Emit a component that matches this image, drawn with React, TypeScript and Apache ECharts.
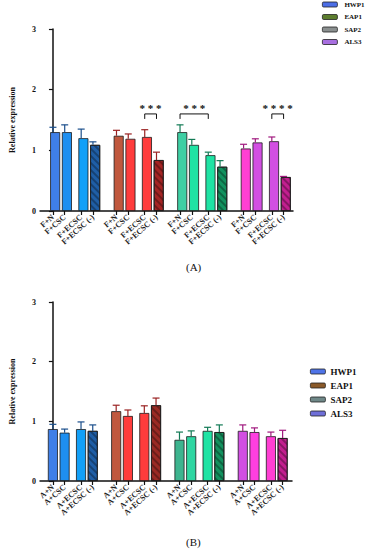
import React, { useEffect, useRef } from "react";
import * as echarts from "echarts";

// ---------- data ----------
const GENES = ["HWP1", "EAP1", "SAP2", "ALS3"];
const LABELS_A = ["F+N", "F+CSC", "F+ECSC", "F+ECSC (-)"];
const LABELS_B = ["A+N", "A+CSC", "A+ECSC", "A+ECSC (-)"];

// mean relative expression, per gene (rows) and condition (columns)
const MEAN_A = [
  [1.3, 1.3, 1.2, 1.09],
  [1.24, 1.19, 1.22, 0.84],
  [1.3, 1.09, 0.92, 0.73],
  [1.03, 1.13, 1.15, 0.56],
];
const UPPER_A = [
  [1.38, 1.42, 1.35, 1.14],
  [1.33, 1.27, 1.34, 0.97],
  [1.42, 1.18, 0.97, 0.83],
  [1.1, 1.19, 1.22, 0.57],
];
const MEAN_B = [
  [0.87, 0.81, 0.87, 0.84],
  [1.17, 1.09, 1.14, 1.27],
  [0.69, 0.75, 0.84, 0.82],
  [0.84, 0.82, 0.75, 0.72],
];
const UPPER_B = [
  [0.95, 0.87, 0.99, 0.94],
  [1.27, 1.19, 1.26, 1.39],
  [0.82, 0.84, 0.9, 0.94],
  [0.94, 0.89, 0.82, 0.85],
];
// significance in panel A: gene index, from condition, to condition, mark
const SIG_GENE = [1, 2, 3];
const SIG_FROM = [2, 0, 2];
const SIG_TO = [3, 2, 3];
const SIG_MARK = ["* * *", "* * *", "* * * *"];
const Y_TICKS = [0, 1, 2, 3];

// ---------- styles ----------
const COLORS_A = [
  ["#3f7fe8", "#1e8ff0", "#12a0f8", "#1f5ea6"],
  ["#c0583e", "#ff3c3c", "#ff3c3c", "#a52424"],
  ["#3fcfa4", "#1fe3a4", "#1fe3a4", "#13925f"],
  ["#ff3fd3", "#d24fe2", "#d24fe2", "#c21f8f"],
];
const COLORS_B = [
  ["#3f7fe8", "#1e8ff0", "#12a0f8", "#1f5ea6"],
  ["#c0583e", "#ff3c3c", "#ff3c3c", "#9a2a24"],
  ["#3db48f", "#2fd6a2", "#1fe3a4", "#13925f"],
  ["#d24fe2", "#ff3fe0", "#ff3fd3", "#c21f8f"],
];
const ERR_COLORS = ["#1b4f8c", "#9a2222", "#127a55", "#a0197e"];
const LEGEND_A = ["#4c6ee6", "#5c7d2e", "#8a8f8f", "#a86fe0"];
const LEGEND_B = ["#4f74e8", "#8a5a2a", "#6f8888", "#6f6fd8"];
const FONT = "'Liberation Serif', 'DejaVu Serif', serif";

// layout of a bar slot along the (hidden-scale) x axis
const GROUP_STEP = 5.4;
const IN_GROUP = [0, 1, 2.4, 3.4];
const slotX = (g: number, i: number) => +(g * GROUP_STEP + IN_GROUP[i]).toFixed(2);

export default function App() {
  const ref = useRef<HTMLDivElement>(null);

  useEffect(() => {
    if (!ref.current) return;
    const chart = echarts.init(ref.current, null, { renderer: "svg" });

    const xs: number[] = [];
    GENES.forEach((_, g) => IN_GROUP.forEach((__, i) => xs.push(slotX(g, i))));

    const labelMap = (labels: string[]) => {
      const m: Record<string, string> = {};
      GENES.forEach((_, g) => labels.forEach((l, i) => (m[slotX(g, i).toFixed(2)] = l)));
      return (v: number) => m[(+v).toFixed(2)] ?? "";
    };

    const decal = {
      symbol: "rect",
      symbolSize: 1,
      dashArrayX: [1, 0],
      dashArrayY: [1.2, 2.2],
      rotation: Math.PI / 4,
      color: "rgba(0,0,0,0.3)",
    };

    const barData = (mean: number[][], colors: string[][]) => {
      const out: any[] = [];
      mean.forEach((row, g) =>
        row.forEach((v, i) =>
          out.push({
            value: [slotX(g, i), v],
            itemStyle: {
              color: colors[g][i],
              borderColor: "#1c1c1c",
              borderWidth: 0.8,
              ...(i === 3 ? { decal } : {}),
            },
          })
        )
      );
      return out;
    };

    const errData = (mean: number[][], upper: number[][]) => {
      const out: number[][] = [];
      mean.forEach((row, g) => row.forEach((v, i) => out.push([slotX(g, i), v, upper[g][i], g])));
      return out;
    };

    const errRender = (_p: any, api: any) => {
      const p0 = api.coord([api.value(0), api.value(1)]);
      const p1 = api.coord([api.value(0), api.value(2)]);
      const col = ERR_COLORS[api.value(3)];
      const st = { stroke: col, lineWidth: 1.2 };
      return {
        type: "group",
        children: [
          { type: "line", shape: { x1: p0[0], y1: p0[1], x2: p1[0], y2: p1[1] }, style: st },
          { type: "line", shape: { x1: p1[0] - 3.5, y1: p1[1], x2: p1[0] + 3.5, y2: p1[1] }, style: st },
        ],
      };
    };

    const sigData = SIG_GENE.map((g, k) => [slotX(g, SIG_FROM[k]), slotX(g, SIG_TO[k]), 1.6, k]);
    const sigRender = (_p: any, api: any) => {
      const a = api.coord([api.value(0), api.value(2)]);
      const b = api.coord([api.value(1), api.value(2)]);
      const k = api.value(3);
      return {
        type: "group",
        children: [
          {
            type: "polyline",
            shape: { points: [[a[0], a[1] + 5], [a[0], a[1]], [b[0], b[1]], [b[0], b[1] + 5]] },
            style: { stroke: "#111", lineWidth: 1, fill: "none" },
          },
          {
            type: "text",
            style: {
              x: (a[0] + b[0]) / 2,
              y: a[1] - 6,
              text: SIG_MARK[k],
              fill: "#111",
              font: `bold 11px ${FONT}`,
              align: "center",
              verticalAlign: "middle",
            },
          },
        ],
      };
    };

    const xAxis = (gi: number, labels: string[]) => ({
      type: "value",
      gridIndex: gi,
      min: -1.1,
      max: 20.4,
      splitLine: { show: false },
      axisLine: { show: true, onZero: false, lineStyle: { color: "#111", width: 1.5 } },
      axisTick: { show: true, customValues: xs, length: 4, lineStyle: { color: "#111", width: 1.2 } },
      axisLabel: {
        customValues: xs,
        formatter: labelMap(labels),
        rotate: 42,
        margin: 5,
        interval: 0,
        hideOverlap: false,
        showMinLabel: true,
        showMaxLabel: true,
        fontSize: 8,
        fontWeight: "bold",
        fontFamily: FONT,
        color: "#222",
      },
    });

    const yAxis = (gi: number) => ({
      type: "value",
      gridIndex: gi,
      min: Y_TICKS[0],
      max: Y_TICKS[Y_TICKS.length - 1],
      interval: 1,
      name: "Relative expression",
      nameLocation: "middle",
      nameGap: 24,
      nameTextStyle: { fontSize: 8, fontWeight: "bold", fontFamily: FONT, color: "#111" },
      splitLine: { show: false },
      axisLine: { show: true, lineStyle: { color: "#111", width: 1.5 } },
      axisTick: { show: true, length: 4, lineStyle: { color: "#111", width: 1.2 } },
      axisLabel: { fontSize: 8, fontWeight: "bold", fontFamily: FONT, color: "#111", margin: 4 },
    });

    const legend = (colors: string[], left: number, top: number, fs: number, gap: number, textGap: number) => ({
      left,
      top,
      orient: "vertical",
      icon: "roundRect",
      itemWidth: 15,
      itemHeight: 5,
      itemGap: gap,
      padding: 0,
      selectedMode: false,
      textStyle: { fontSize: fs, fontWeight: "bold", fontFamily: FONT, color: "#111", padding: [0, 0, 0, textGap - 5] },
      data: GENES.map((n, i) => ({
        name: n,
        itemStyle: { color: colors[i], borderColor: "#222", borderWidth: 0.8 },
      })),
    });

    chart.setOption({
      animation: false,
      grid: [
        { left: 35, right: 78, top: 29, height: 182 },
        { left: 35, right: 79, top: 302, height: 179 },
      ],
      xAxis: [xAxis(0, LABELS_A), xAxis(1, LABELS_B)],
      yAxis: [yAxis(0), yAxis(1)],
      legend: [legend(LEGEND_A, 322, 1, 7, 5.5, 7), legend(LEGEND_B, 310, 367, 9, 5, 5)],
      graphic: [
        { type: "text", left: 186, top: 261, style: { text: "(A)", font: `11px ${FONT}`, fill: "#111" } },
        { type: "text", left: 186, top: 536, style: { text: "(B)", font: `11px ${FONT}`, fill: "#111" } },
      ],
      series: [
        ...GENES.map((n) => ({ type: "bar", name: n, xAxisIndex: 0, yAxisIndex: 0, data: [] })),
        {
          type: "bar",
          name: "A",
          xAxisIndex: 0,
          yAxisIndex: 0,
          barWidth: 10,
          data: barData(MEAN_A, COLORS_A),
        },
        {
          type: "bar",
          name: "B",
          xAxisIndex: 1,
          yAxisIndex: 1,
          barWidth: 10,
          data: barData(MEAN_B, COLORS_B),
        },
        { type: "custom", xAxisIndex: 0, yAxisIndex: 0, renderItem: errRender, data: errData(MEAN_A, UPPER_A), z: 5 },
        { type: "custom", xAxisIndex: 1, yAxisIndex: 1, renderItem: errRender, data: errData(MEAN_B, UPPER_B), z: 5 },
        { type: "custom", xAxisIndex: 0, yAxisIndex: 0, renderItem: sigRender, data: sigData, z: 5 },
      ],
    });

    return () => chart.dispose();
  }, []);

  return <div ref={ref} style={{ position: "absolute", left: 0, top: 0, width: 371, height: 550 }} />;
}
